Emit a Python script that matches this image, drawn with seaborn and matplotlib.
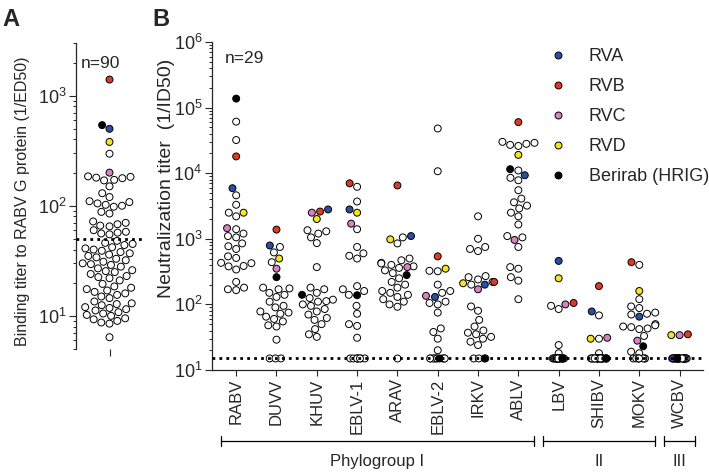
import warnings
import matplotlib
matplotlib.use("Agg")
import matplotlib.pyplot as plt
from matplotlib.lines import Line2D
import seaborn as sns
import pandas as pd
import numpy as np

warnings.filterwarnings("ignore")

#-----------------------------------------------
# Data
#-----------------------------------------------
antibodies = ['RVA', 'RVB', 'RVC', 'RVD', 'Berirab (HRIG)']
ab_colors = ['#2b4ea2', '#e03a24', '#d983be', '#f4e61c', '#000000']

# Panel A: binding titer to RABV G protein, n=90
binding_mabs = [500, 1400, 200, 380, 540]   # RVA, RVB, RVC, RVD, Berirab
binding_sera = [297, 183, 180, 178, 185, 170, 172, 150, 130, 120, 110, 105,
                100, 98, 102, 108, 85, 88, 68, 70, 66, 72, 65, 58, 56, 60, 55, 57,
                48, 45, 44, 46, 42, 40, 39, 38, 41, 37, 35, 34, 33, 36, 32,
                30, 29, 31, 28, 29.5, 26, 25, 24, 25.5, 27, 22, 23, 21, 22.5,
                19.5, 18, 17.5, 17, 18.5, 16.5, 15.5, 15, 14.5, 16,
                13, 12.5, 13.5, 12.8, 11.5, 11.8, 11.2, 12,
                10.5, 10.2, 10.8, 10, 9.5, 9.3, 9.0, 8.5, 8.7, 6.4]
binding_cutoff = 50

# Panel B: neutralization titers, n=29 per virus
viruses = ['RABV', 'DUVV', 'KHUV', 'EBLV-1', 'ARAV', 'EBLV-2',
           'IRKV', 'ABLV', 'LBV', 'SHIBV', 'MOKV', 'WCBV']
lod = 15

rva = [5900, 790, 2800, 2800, 1100, 130, 200, 9300, 460, 78, 65, 15]
rvb = [18000, 1380, 2600, 7000, 6500, 540, 220, 60000, 105, 190, 440, 35]
rvc = [1450, 350, 2500, 1700, 370, 135, 170, 960, 100, 31, 28, 34]
rvd = [2500, 500, 2000, 2500, 980, 350, 210, 19000, 250, 30, 160, 34]
berirab = [137000, 260, 140, 138, 280, 15, 15, 11500, 15, 15, 23, 15]

sera_rabv = [61000, 32000, 4600, 3300, 2500, 2200, 1400, 1200, 1100, 1050, 850, 770,
             700, 540, 510, 430, 425, 380, 385, 340, 220, 180, 170, 165]
sera_duvv = [750, 620, 440, 180, 175, 170, 150, 140, 130, 110, 95, 90, 78, 75, 72,
             65, 60, 55, 48, 46, 29]
sera_khuv = [1350, 1300, 1200, 1050, 860, 370, 180, 170, 150, 125, 118, 112, 110,
             100, 95, 85, 78, 70, 62, 58, 50, 42, 35, 32]
sera_eblv1 = [6200, 3700, 1400, 750, 600, 550, 500, 190, 170, 160, 140, 95, 72,
              50, 47, 31]
sera_arav = [1050, 850, 500, 470, 430, 420, 400, 380, 360, 330, 300, 250, 220, 200,
             180, 160, 150, 140, 130, 120, 110, 100, 92]
sera_eblv2 = [48000, 10700, 320, 325, 200, 160, 150, 110, 105, 100, 75, 43, 38, 30, 20]
sera_irkv = [2200, 1000, 750, 700, 650, 270, 260, 240, 220, 200, 93, 80, 58, 46,
             40, 37, 35, 32, 30, 27, 24]
sera_ablv = [30000, 28000, 27000, 26000, 29000, 11000, 8500, 7800, 5500, 4100, 3600,
             3200, 2900, 2500, 2200, 1650, 1100, 1050, 750, 370, 350, 260, 230, 120]
sera_lbv = [95, 85, 24, 18]
sera_shibv = [68, 30, 18]
sera_mokv = [400, 120, 93, 88, 75, 72, 70, 50, 48, 46, 45, 43, 42, 33, 19, 18]
sera_wcbv = []
# number of sera at the detection limit for every virus
n_at_lod = [0, 3, 0, 8, 1, 9, 3, 0, 20, 21, 8, 24]

phylogroups = ['Phylogroup I', 'II', 'III']
phylogroup_sizes = [8, 3, 1]


#-----------------------------------------------
# Build the long tables
#-----------------------------------------------
def build_panel_b():
    sera = [sera_rabv, sera_duvv, sera_khuv, sera_eblv1, sera_arav, sera_eblv2,
            sera_irkv, sera_ablv, sera_lbv, sera_shibv, sera_mokv, sera_wcbv]
    rows = []
    for virus, vals, n0 in zip(viruses, sera, n_at_lod):
        for v in list(vals) + [lod] * n0:
            rows.append((virus, v, 'sera'))
    # coloured antibodies last, so they sit on top
    for ab, vals in zip(antibodies, [rva, rvb, rvc, rvd, berirab]):
        for virus, v in zip(viruses, vals):
            rows.append((virus, v, ab))
    return pd.DataFrame(rows, columns=['virus', 'titer', 'group'])


def build_panel_a():
    rows = [('A', v, 'sera') for v in binding_sera]
    rows += [('A', v, ab) for ab, v in zip(antibodies, binding_mabs)]
    return pd.DataFrame(rows, columns=['sample', 'titer', 'group'])


def style_log_axis(ax):
    ax.tick_params(axis='y', which='major', length=5, width=0.8, pad=2, labelsize=13)
    ax.tick_params(axis='y', which='minor', length=2.5, width=0.7)
    for s in ['top', 'right']:
        ax.spines[s].set_visible(False)
    ax.spines['left'].set_linewidth(0.9)


def main():
    sns.set_theme(style="ticks")
    plt.rcParams['font.family'] = ['Liberation Sans', 'DejaVu Sans']
    plt.rcParams['mathtext.default'] = 'regular'

    palette = {'sera': 'white', **dict(zip(antibodies, ab_colors))}
    hue_order = ['sera'] + antibodies
    dot_kw = dict(hue='group', hue_order=hue_order, palette=palette, size=5.0,
                  edgecolor='black', linewidth=0.7, log_scale=True, legend=False)

    fig = plt.figure(figsize=(7.09, 4.72), dpi=100)
    axA = fig.add_axes([0.1072, 0.2606, 0.0945, 0.648])
    axB = fig.add_axes([0.299, 0.2161, 0.6925, 0.695])

    # --- Panel A ---
    df_a = build_panel_a()
    sns.swarmplot(data=df_a, x='sample', y='titer', ax=axA, **dot_kw)
    axA.set_ylim(5, 3000)
    axA.set_xlim(-0.5, 0.5)
    axA.axhline(binding_cutoff, color='black', linestyle=(0, (1, 1.5)), linewidth=2,
                zorder=3)
    style_log_axis(axA)
    axA.spines['bottom'].set_visible(False)
    axA.set_xticks([0])
    axA.set_xticklabels([''])
    axA.tick_params(axis='x', length=5, width=0.8)
    axA.set_xlabel('')
    axA.set_ylabel('Binding titer to RABV G protein (1/ED50)', fontsize=11.5, va='center')
    axA.yaxis.set_label_coords(-0.8, 0.484)
    axA.text(0.37, 0.935, 'n=90', transform=axA.transAxes, ha='center', va='center',
             fontsize=12.5)

    # --- Panel B ---
    df_b = build_panel_b()
    above = df_b[df_b['titer'] > lod]
    at_lod = df_b[df_b['titer'] <= lod]
    sns.swarmplot(data=above, x='virus', y='titer', order=viruses, ax=axB, **dot_kw)
    # sera below detection pile up at the limit (Prism style scatter)
    np.random.seed(7)
    sns.stripplot(data=at_lod, x='virus', y='titer', order=viruses, jitter=0.2,
                  ax=axB, **dot_kw)
    axB.set_ylim(10, 1e6)
    axB.set_xlim(-0.6, 11.58)
    axB.axhline(lod, color='black', linestyle=(0, (1, 1.5)), linewidth=2, zorder=3)
    style_log_axis(axB)
    axB.spines['bottom'].set_linewidth(0.9)
    axB.tick_params(axis='x', length=4, width=0.8, pad=2, labelsize=12,
                    labelrotation=90)
    axB.set_xlabel('')
    axB.set_ylabel('Neutralization titer  (1/ID50)', fontsize=14, va='center')
    axB.yaxis.set_label_coords(-0.092, 0.585)
    axB.text(0.067, 0.951, 'n=29', transform=axB.transAxes, ha='center', va='center',
             fontsize=12.5)

    # legend
    handles = [Line2D([], [], marker='o', linestyle='', markerfacecolor=c,
                      markeredgecolor='black', markeredgewidth=0.7, markersize=5.0)
               for c in ab_colors]
    axB.legend(handles, antibodies, loc='upper left', bbox_to_anchor=(0.686, 0.981),
               frameon=False, handlelength=1, handletextpad=1.2, labelspacing=0.72,
               borderpad=0, borderaxespad=0, fontsize=13)

    # phylogroup brackets
    trans = axB.get_xaxis_transform()
    start = 0
    for name, size in zip(phylogroups, phylogroup_sizes):
        x0, x1 = start - 0.38, start + size - 1 + 0.38
        y = -0.2165
        axB.plot([x0, x1], [y, y], color='black', lw=0.9, transform=trans, clip_on=False)
        for xe in (x0, x1):
            axB.plot([xe, xe], [y - 0.014, y + 0.014], color='black', lw=0.9,
                     transform=trans, clip_on=False)
        axB.text((x0 + x1) / 2, -0.28, name, transform=trans, ha='center', va='center',
                 fontsize=12)
        start += size

    # panel letters
    fig.text(0.004, 0.982, 'A', fontsize=17, fontweight='bold', va='top', ha='left')
    fig.text(0.215, 0.982, 'B', fontsize=17, fontweight='bold', va='top', ha='left')

    fig.savefig('out.png', dpi=100)


if __name__ == "__main__":
    main()
